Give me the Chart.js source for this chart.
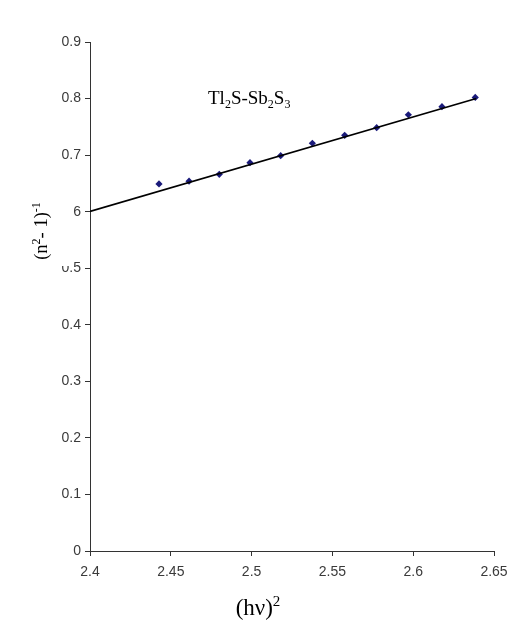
<!DOCTYPE html>
<html>
<head>
<meta charset="utf-8">
<script src="https://cdn.jsdelivr.net/npm/chart.js@4.4.0/dist/chart.umd.min.js"></script>
<style>
html,body{margin:0;padding:0;background:#fff;}
#wrap{width:523px;height:621px;}
</style>
</head>
<body>
<div id="wrap"><canvas id="c" width="523" height="621"></canvas></div>
<script>
const hv2 = [2.4427, 2.4613, 2.480, 2.499, 2.518, 2.5376, 2.5576, 2.5774, 2.597, 2.6178, 2.6384];
const invN = [0.649, 0.654, 0.666, 0.6866, 0.699, 0.721, 0.735, 0.7485, 0.7714, 0.7856, 0.802];
const trendX = [2.4, 2.639];
const trendY = [0.6004, 0.800];
const xTicks = [2.4, 2.45, 2.5, 2.55, 2.6, 2.65];
const yTicks = [0, 0.1, 0.2, 0.3, 0.4, 0.5, 0.6, 0.7, 0.8, 0.9];

function drawRich(ctx, parts, x, y, size, align) {
  let total = 0;
  const widths = parts.map(p => {
    ctx.font = (p[1] ? Math.round(size * 0.65) : size) + 'px "Liberation Serif", serif';
    const w = ctx.measureText(p[0]).width;
    total += w;
    return w;
  });
  let cx = align === 'center' ? x - total / 2 : x;
  parts.forEach((p, i) => {
    ctx.font = (p[1] ? Math.round(size * 0.65) : size) + 'px "Liberation Serif", serif';
    let dy = 0;
    if (p[1] === 1) dy = size * 0.2;
    if (p[1] === 2) dy = -size * 0.4;
    ctx.fillText(p[0], cx, y + dy);
    cx += widths[i];
  });
}

const annot = {
  id: 'annot',
  afterDraw(chart) {
    const ctx = chart.ctx;
    ctx.save();
    ctx.fillStyle = '#000';
    ctx.textBaseline = 'alphabetic';
    ctx.textAlign = 'left';
    drawRich(ctx, [['Tl',0],['2',1],['S-Sb',0],['2',1],['S',0],['3',1]], 208, 104, 19, 'left');
    drawRich(ctx, [['(hν)',0],['2',2]], 258, 615, 23, 'center');
    ctx.fillStyle = '#fff';
    ctx.fillRect(26, 194, 47, 72);
    ctx.fillStyle = '#000';
    ctx.translate(47, 231);
    ctx.rotate(-Math.PI / 2);
    drawRich(ctx, [['(n',0],['2',2],['- 1)',0],['-1',2]], 0, 0, 18.5, 'center');
    ctx.restore();
  }
};

new Chart(document.getElementById('c'), {
  type: 'scatter',
  data: {
    datasets: [
      {
        data: hv2.map((x, i) => ({x: x, y: invN[i]})),
        pointStyle: 'rectRot',
        pointRadius: 3.6,
        backgroundColor: '#1a1a7a',
        borderColor: '#1a1a7a',
        borderWidth: 0,
        showLine: false,
        order: 2
      },
      {
        data: trendX.map((x, i) => ({x: x, y: trendY[i]})),
        showLine: true,
        borderColor: '#000',
        borderWidth: 1.7,
        pointRadius: 0,
        fill: false,
        order: 1
      }
    ]
  },
  options: {
    responsive: false,
    animation: false,
    events: [],
    layout: {padding: {top: 42, right: 29, left: 0, bottom: 0}},
    plugins: {legend: {display: false}, tooltip: {enabled: false}},
    scales: {
      x: {
        type: 'linear',
        min: 2.4, max: 2.65,
        afterBuildTicks: s => { s.ticks = xTicks.map(v => ({value: v})); },
        afterFit: s => { s.height = 70; },
        grid: {drawOnChartArea: false, drawTicks: true, tickLength: 5, color: '#333', tickColor: '#333'},
        border: {color: '#333', width: 1},
        ticks: {
          padding: 8,
          color: '#3a3a3a',
          font: {family: '"Liberation Sans", Arial, sans-serif', size: 14},
          maxRotation: 0,
          callback: v => String(parseFloat(Number(v).toFixed(2)))
        }
      },
      y: {
        type: 'linear',
        min: 0, max: 0.9,
        afterBuildTicks: s => { s.ticks = yTicks.map(v => ({value: v})); },
        afterFit: s => { s.width = 90; },
        grid: {drawOnChartArea: false, drawTicks: true, tickLength: 5, color: '#333', tickColor: '#333'},
        border: {color: '#333', width: 1},
        ticks: {
          padding: 4,
          color: '#3a3a3a',
          font: {family: '"Liberation Sans", Arial, sans-serif', size: 14},
          callback: v => String(parseFloat(Number(v).toFixed(2)))
        }
      }
    }
  },
  plugins: [annot]
});
</script>
</body>
</html>
